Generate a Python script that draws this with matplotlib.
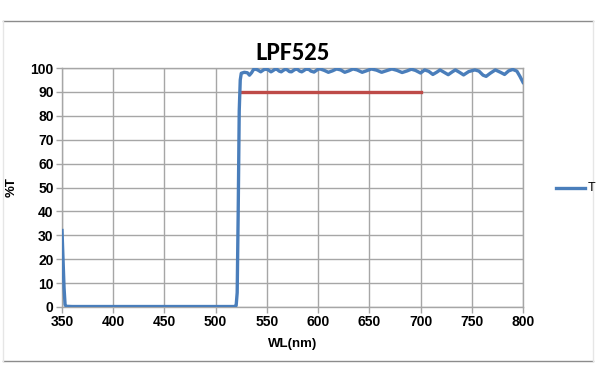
#!/usr/bin/env python
# -*- coding: utf-8 -*-

import matplotlib
matplotlib.use("Agg")
import matplotlib.pyplot as plt
from matplotlib.lines import Line2D

# transmission curve (nm, %T)
wl = [350, 351, 352, 353, 354, 360, 400, 450, 500, 519, 520, 521, 522, 523, 524,
      525, 528, 531, 533, 535, 537, 539, 541, 544, 547, 549, 551, 554, 556, 558,
      560, 562, 564, 566, 568, 570, 572, 574, 576, 578, 580, 582, 584, 586, 588,
      591, 593, 596, 598, 600, 602, 606, 610, 614, 618, 622, 626, 630, 634, 638,
      643, 647, 652, 657, 662, 667, 672, 677, 682, 687, 691, 695, 700, 704, 708,
      712, 716, 719, 723, 727, 731, 734, 738, 742, 747, 753, 757, 761, 764, 768,
      773, 778, 782, 786, 790, 794, 797, 800]
T = [32.0, 20.0, 8.0, 1.0, 0.3, 0.2, 0.2, 0.2, 0.2, 0.2, 0.6, 6.0, 40.0, 82.0, 95.0,
     97.8, 98.2, 98.0, 97.0, 98.0, 99.4, 99.5, 99.2, 98.4, 99.3, 99.5, 99.3, 98.4, 98.9, 99.5,
     99.4, 98.7, 98.4, 99.0, 99.5, 99.2, 98.5, 98.4, 99.0, 99.5, 99.4, 98.7, 98.4, 98.9, 99.5,
     99.4, 98.7, 98.3, 98.9, 99.5, 99.6, 99.0, 98.2, 98.8, 99.6, 99.2, 98.2, 98.8, 99.6, 99.2,
     98.2, 98.8, 99.6, 99.1, 98.2, 98.9, 99.6, 99.0, 98.1, 98.8, 99.5, 99.0, 97.9, 99.2, 98.6,
     97.3, 98.3, 99.2, 98.2, 97.2, 98.4, 99.2, 98.2, 97.1, 98.5, 99.2, 98.7, 97.0, 96.5, 97.8,
     99.2, 98.2, 97.3, 98.8, 99.4, 98.7, 96.5, 94.0]

spec_wl = [525, 700]
spec_T = [90, 90]

xticks = [350, 400, 450, 500, 550, 600, 650, 700, 750, 800]
yticks = [0, 10, 20, 30, 40, 50, 60, 70, 80, 90, 100]

blue = "#4a7ebb"
red = "#be4b48"
grid = "#a6a6a6"

fig = plt.figure(figsize=(6.0, 3.83), dpi=100)
ax = fig.add_axes([62 / 600, (383 - 307) / 383, 461 / 600, 239 / 383])

ax.plot(wl, T, color=blue, lw=2.4, solid_joinstyle="round", zorder=3)
ax.plot(spec_wl, spec_T, color=red, lw=2.4, zorder=2)

ax.set_xlim(350, 800)
ax.set_ylim(0, 100)
ax.set_xticks(xticks)
ax.set_yticks(yticks)
ax.grid(True, color=grid, lw=1.0)
ax.set_axisbelow(True)
for s in ax.spines.values():
    s.set_color(grid)
    s.set_linewidth(1.0)
ax.tick_params(length=4, width=1.0, color=grid, pad=2)
for lab in ax.get_xticklabels() + ax.get_yticklabels():
    lab.set_fontfamily("Liberation Sans")
    lab.set_fontweight("bold")
    lab.set_fontsize(10)

ax.set_title("LPF525", fontfamily="Lato", fontweight="black", fontsize=15.5, pad=6)
ax.set_xlabel("WL(nm)", fontfamily="Liberation Sans", fontweight="bold", fontsize=9.5, labelpad=6)
ax.set_ylabel("%T", fontfamily="Liberation Sans", fontweight="bold", fontsize=9.5)
ax.yaxis.set_label_coords((18 - 62) / 461, 0.5)

# legend on the right
leg_line = Line2D([556 / 600, 585 / 600], [1 - 188 / 383, 1 - 188 / 383],
                  transform=fig.transFigure, color=blue, lw=2.4)
fig.add_artist(leg_line)
fig.text(588 / 600, 1 - 188 / 383, "T", fontfamily="Liberation Sans", fontsize=9,
         va="center", ha="left")

# chart area frame
fig.add_artist(Line2D([3 / 600, 593 / 600], [1 - 21 / 383, 1 - 21 / 383],
                      transform=fig.transFigure, color="#8c8c8c", lw=1.0))
fig.add_artist(Line2D([3 / 600, 593 / 600], [1 - 361 / 383, 1 - 361 / 383],
                      transform=fig.transFigure, color="#8c8c8c", lw=1.0))
fig.add_artist(Line2D([3 / 600, 3 / 600], [1 - 21 / 383, 1 - 361 / 383],
                      transform=fig.transFigure, color="#e6e6e6", lw=1.0))
fig.add_artist(Line2D([593 / 600, 593 / 600], [1 - 21 / 383, 1 - 361 / 383],
                      transform=fig.transFigure, color="#e6e6e6", lw=1.0))

fig.savefig("out.png", dpi=100)
